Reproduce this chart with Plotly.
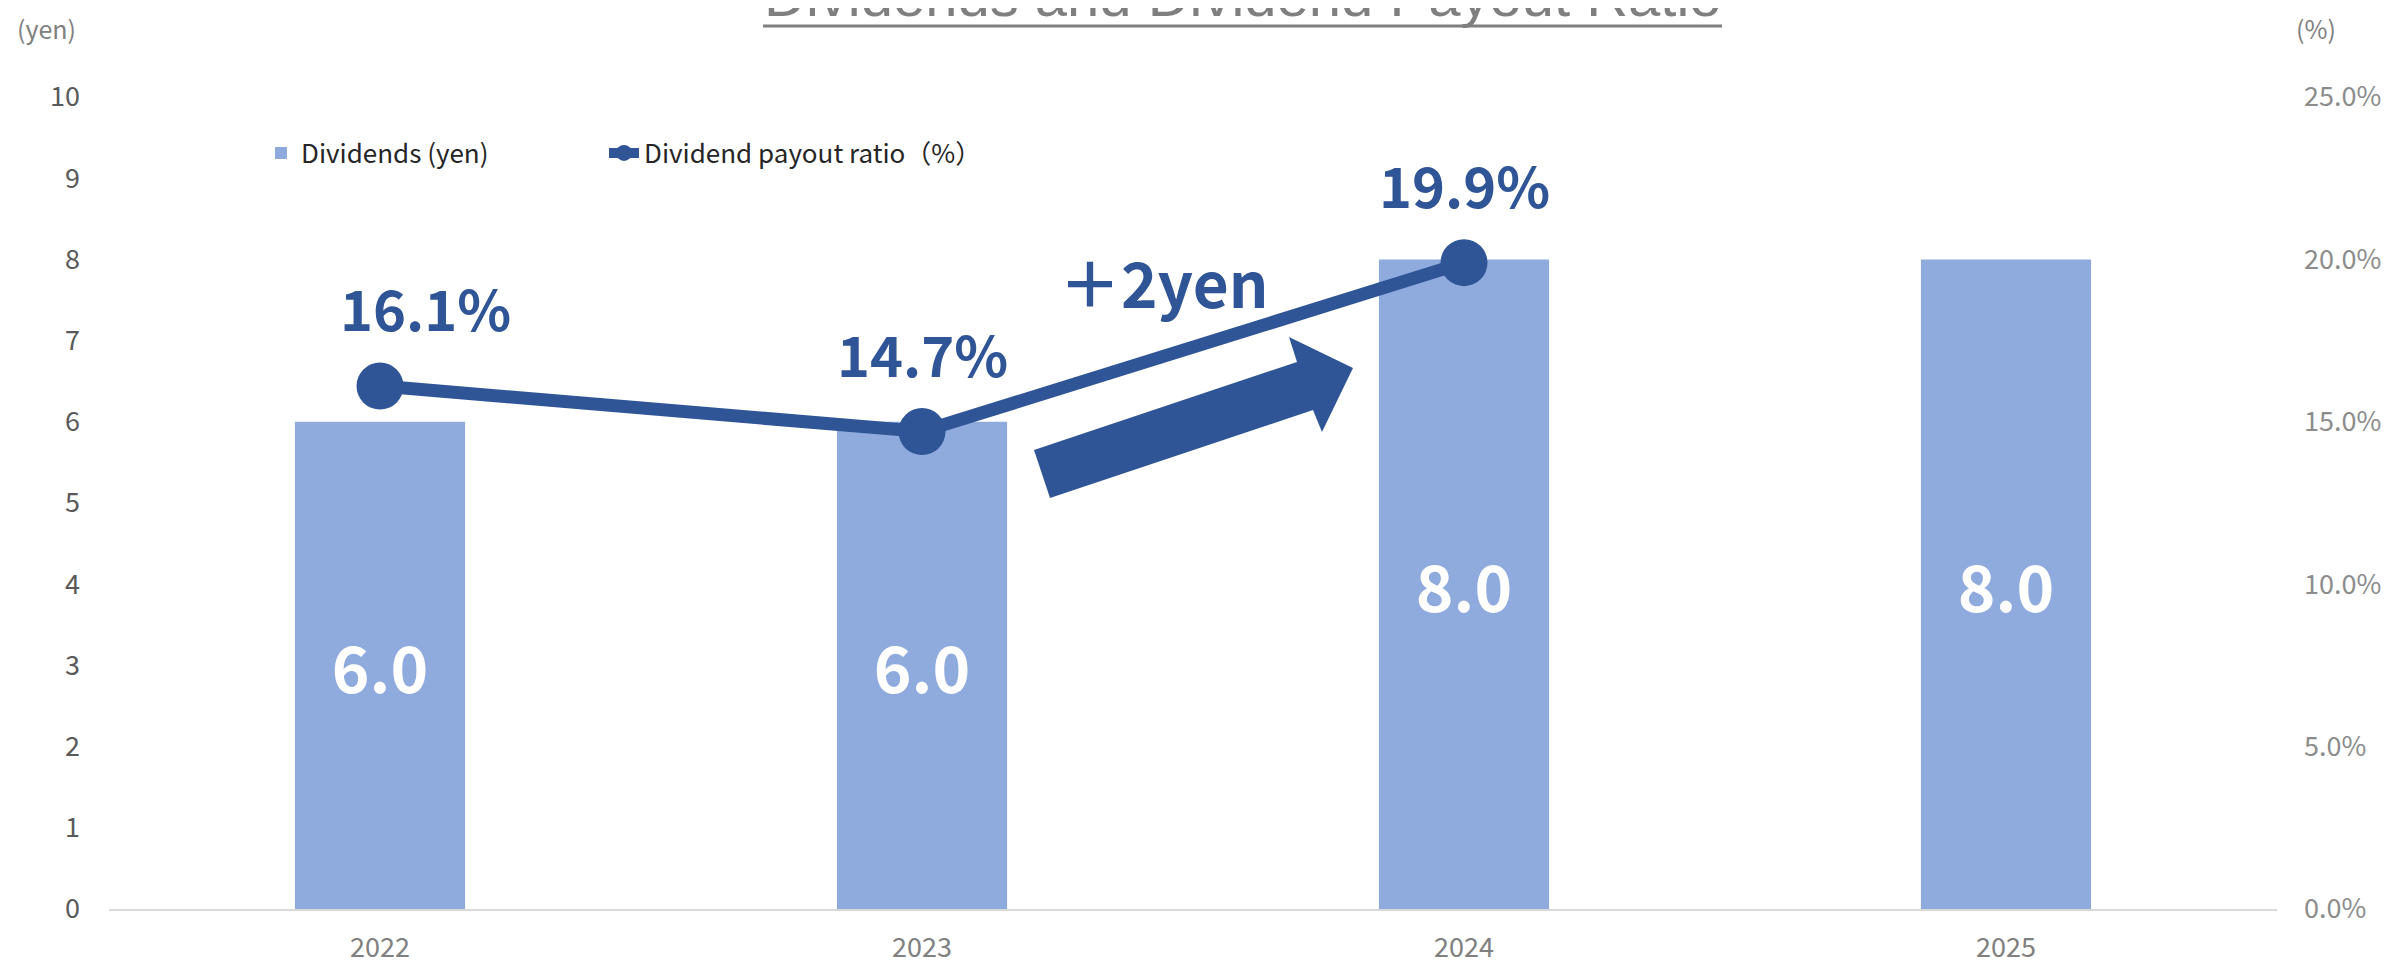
import plotly.graph_objects as go

# ---- data ----
years = ["2022", "2023", "2024", "2025"]
dividends = [6.0, 6.0, 8.0, 8.0]
payout_years = ["2022", "2023", "2024"]
payout_ratio = [16.1, 14.7, 19.9]
yen_ticks = [0, 1, 2, 3, 4, 5, 6, 7, 8, 9, 10]
pct_ticks = [0, 5, 10, 15, 20, 25]
pct_ticktext = ["0.0%", "5.0%", "10.0%", "15.0%", "20.0%", "25.0%"]

YEN_MAX, PCT_MAX = 10, 25

# page is rendered with an 8px body margin: figure coords = page coords - 8
OFF = 8
W, H = 2407 - OFF, 967 - OFF
L, R, T, B = 109 - OFF, 2407 - 2277, 97 - OFF, 967 - 909
PW, PH = W - L - R, H - T - B

BAR = "#8FAADC"
LINE = "#2F5597"
FONT = "Noto Sans CJK JP, Noto Sans, sans-serif"

def px2paper(x, y):
    """page pixel -> paper coords"""
    fx, fy = x - OFF, y - OFF
    return (fx - L) / PW, (H - B - fy) / PH

fig = go.Figure()
fig.add_trace(go.Bar(
    x=years, y=dividends, name="Dividends (yen)",
    marker=dict(color=BAR, line=dict(width=0)),
    width=0.314,
    texttemplate="%{y:.1f}", textposition="inside", insidetextanchor="middle",
    textangle=0,
    textfont=dict(color="white", size=64, family=FONT, weight="bold"),
    yaxis="y", legendwidth=298,
))
fig.add_trace(go.Scatter(
    x=payout_years, y=payout_ratio, name="Dividend payout ratio（%）",
    mode="lines+markers",
    line=dict(color=LINE, width=13),
    marker=dict(color=LINE, size=47),
    yaxis="y2", legendwidth=420,
))

# payout labels (placed on the yen axis, scaled from the % axis)
label_xshift = [45, 0, 0]
for i, (yv, xs) in enumerate(zip(payout_ratio, label_xshift)):
    fig.add_annotation(
        x=i, y=yv * YEN_MAX / PCT_MAX, xref="x", yref="y", text="%.1f%%" % yv,
        showarrow=False, yanchor="bottom", yshift=37, xshift=xs,
        font=dict(color=LINE, size=56, family=FONT, weight="bold"),
    )

# +2yen annotation
fig.add_annotation(
    x=1.445, y=7.73, xref="x", yref="y", text="＋2yen", showarrow=False,
    font=dict(color=LINE, size=62, family=FONT, weight="bold"),
)

# block arrow
pts = [(1034, 450), (1297, 362), (1289, 337), (1353, 368), (1322, 432), (1313, 410), (1050, 498)]
path = "M " + " L ".join("{:.5f},{:.5f}".format(*px2paper(x, y)) for x, y in pts) + " Z"
fig.add_shape(type="path", path=path, xref="paper", yref="paper",
              fillcolor=LINE, line=dict(width=0))

# title
tx, ty = px2paper(1243, 30)
fig.add_annotation(
    x=tx, y=ty, xref="paper", yref="paper", xanchor="center", yanchor="bottom",
    text="Dividends and Dividend Payout Ratio", showarrow=False,
    font=dict(color="#7f7f7f", size=58, family="Liberation Sans, Arial, sans-serif"),
)
ux0, uy = px2paper(763, 26)
ux1, _ = px2paper(1722, 26)
fig.add_shape(type="line", xref="paper", yref="paper", x0=ux0, x1=ux1, y0=uy, y1=uy,
              line=dict(color="#7f7f7f", width=3))

# axis unit labels
ax_, ay_ = px2paper(15, 28)
fig.add_annotation(x=ax_, y=ay_, xref="paper", yref="paper", xanchor="left", yanchor="middle",
                   text="(yen)", showarrow=False, font=dict(color="#808080", size=25, family=FONT))
bx_, by_ = px2paper(2294, 28)
fig.add_annotation(x=bx_, y=by_, xref="paper", yref="paper", xanchor="left", yanchor="middle",
                   text="(%)", showarrow=False, font=dict(color="#808080", size=25, family=FONT))

lx, ly = px2paper(261, 153)
fig.update_layout(
    width=W, height=H,
    margin=dict(l=L, r=R, t=T, b=B, pad=0, autoexpand=False),
    paper_bgcolor="white", plot_bgcolor="white",
    font=dict(family=FONT),
    showlegend=True,
    legend=dict(orientation="h", x=lx, y=ly, xanchor="left", yanchor="middle",
                font=dict(size=26, color="#262626", family=FONT),
                bgcolor="rgba(0,0,0,0)", traceorder="normal"),
    xaxis=dict(type="category", categoryarray=years, range=[-0.5, 3.5],
               showline=True, linecolor="#d9d9d9", linewidth=2, showgrid=False,
               ticks="", ticklabelstandoff=14, automargin=False,
               tickfont=dict(size=27, color="#808080", family=FONT), zeroline=False),
    yaxis=dict(range=[0, YEN_MAX], tickvals=yen_ticks, showgrid=False, zeroline=False,
               showline=False, ticks="", ticklabelstandoff=28, automargin=False,
               tickfont=dict(size=27, color="#595959", family=FONT)),
    yaxis2=dict(range=[0, PCT_MAX], tickvals=pct_ticks, ticktext=pct_ticktext,
                overlaying="y", side="right", showgrid=False, zeroline=False,
                showline=False, ticks="", ticklabelstandoff=26, automargin=False,
                tickfont=dict(size=27, color="#8c8c8c", family=FONT)),
    bargap=0.686,
)

fig.write_html("out.html")
